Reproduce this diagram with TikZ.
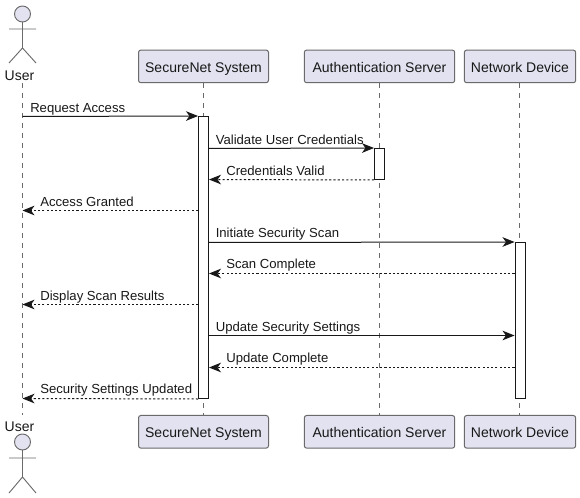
\documentclass[tikz,border=0pt]{standalone}
\usepackage{fontspec}
\setmainfont{Liberation Sans}
\usetikzlibrary{arrows.meta}
\definecolor{partfill}{HTML}{E2E2F0}
\definecolor{partline}{HTML}{6A6A6A}
\definecolor{ink}{HTML}{181818}
\tikzset{
  part/.style={draw=partline,fill=partfill,line width=0.75pt,rounded corners=1.8pt,minimum height=24.5pt,inner sep=0pt,font=\fontsize{10.5}{12}\selectfont,text=ink,text height=9.5pt,text depth=0.3pt},
  life/.style={draw=partline,line width=0.6pt,dash pattern=on 3.75pt off 3.75pt},
  actorline/.style={draw=partline,line width=0.7pt},
  bar/.style={draw=ink,fill=white,line width=0.75pt,minimum width=7.5pt,inner sep=0pt},
  tip/.tip={Stealth[inset=2.6pt,length=9pt,width=7.2pt]},
  msg/.style={draw=ink,line width=0.75pt,-{tip}},
  ret/.style={msg,dash pattern=on 1.6pt off 1.6pt},
  lbl/.style={anchor=base west,inner sep=0pt,font=\fontsize{9.85}{11}\selectfont,text=ink},
  alabel/.style={inner sep=0pt,font=\fontsize{10.5}{12}\selectfont,text=ink,anchor=base}
}
\begin{document}
\begin{tikzpicture}[x=0.75pt,y=-0.75pt]
\useasboundingbox (0,0) rectangle (580,498);
% participants
\node[part,minimum width=97.5pt] (st) at (203.5,66.4) {SecureNet System};
\node[part,minimum width=112.8pt] (at) at (379.5,66.4) {Authentication Server};
\node[part,minimum width=83.5pt] (nt) at (520,66.4) {Network Device};
\node[part,minimum width=97.5pt] (sb) at (203.5,431.8) {SecureNet System};
\node[part,minimum width=112.8pt] (ab) at (379.5,431.8) {Authentication Server};
\node[part,minimum width=83.5pt] (nb) at (520,431.8) {Network Device};
\node[alabel] (ut) at (19.5,80.6) {User};
\node[alabel] (ub) at (19.5,431) {User};
% lifelines
\coordinate (uli) at (22.5,83);
\coordinate (ulo) at (22.5,415);
\coordinate (nli) at (519.5,83);
\coordinate (nlo) at (519.5,415);
\draw[life] (uli) -- (ulo);
\draw[life] (st.south) -- (sb.north);
\draw[life] (at.south) -- (ab.north);
\draw[life] (nli) -- (nlo);
% activation bars
\node[bar,minimum height=211.5pt] (bs) at (203.5,257.5) {};
\node[bar,minimum height=23.25pt] (ba) at (379.5,164) {};
\node[bar,minimum height=117pt] (bn) at (520,320.5) {};
% actors
\draw[actorline,fill=partfill] (22.5,14) circle (8);
\draw[actorline] (22.5,22) -- (22.5,48) (9,29) -- (36,29) (9,63) -- (22.5,48) -- (36,63);
\draw[actorline,fill=partfill] (22.5,442) circle (8);
\draw[actorline] (22.5,450) -- (22.5,477) (9,458) -- (36,458) (9,493) -- (22.5,477) -- (36,493);
% messages
\coordinate (u1) at (22.5,116.5);
\coordinate (u2) at (22.5,210.5);
\coordinate (u3) at (22.5,304.5);
\coordinate (u4) at (22.5,398.5);
\draw[msg] (u1) -- (bs.north west);
\draw[msg] (bs.east |- 0,148.5) -- (ba.north west);
\draw[ret] (ba.south west) -- (bs.east |- 0,179.5);
\draw[ret] (bs.west |- 0,210.5) -- (u2);
\draw[msg] (bs.east |- 0,242.5) -- (bn.north west);
\draw[ret] (bn.west |- 0,273.5) -- (bs.east |- 0,273.5);
\draw[ret] (bs.west |- 0,304.5) -- (u3);
\draw[msg] (bs.east |- 0,335.5) -- (bn.west |- 0,335.5);
\draw[ret] (bn.west |- 0,367.5) -- (bs.east |- 0,367.5);
\draw[ret] (bs.south west) -- (u4);
% labels
\node[lbl] (l1) at (30,112.7) {Request Access};
\node[lbl] (l2) at (215.5,144.2) {Validate User Credentials};
\node[lbl] (l3) at (226,175.2) {Credentials Valid};
\node[lbl] (l4) at (40,206.4) {Access Granted};
\node[lbl] (l5) at (215.5,237.7) {Initiate Security Scan};
\node[lbl] (l6) at (226,268.7) {Scan Complete};
\node[lbl] (l7) at (40,300) {Display Scan Results};
\node[lbl] (l8) at (215.5,331) {Update Security Settings};
\node[lbl] (l9) at (226,362.5) {Update Complete};
\node[lbl] (l10) at (40,393.5) {Security Settings Updated};
\end{tikzpicture}
\end{document}
